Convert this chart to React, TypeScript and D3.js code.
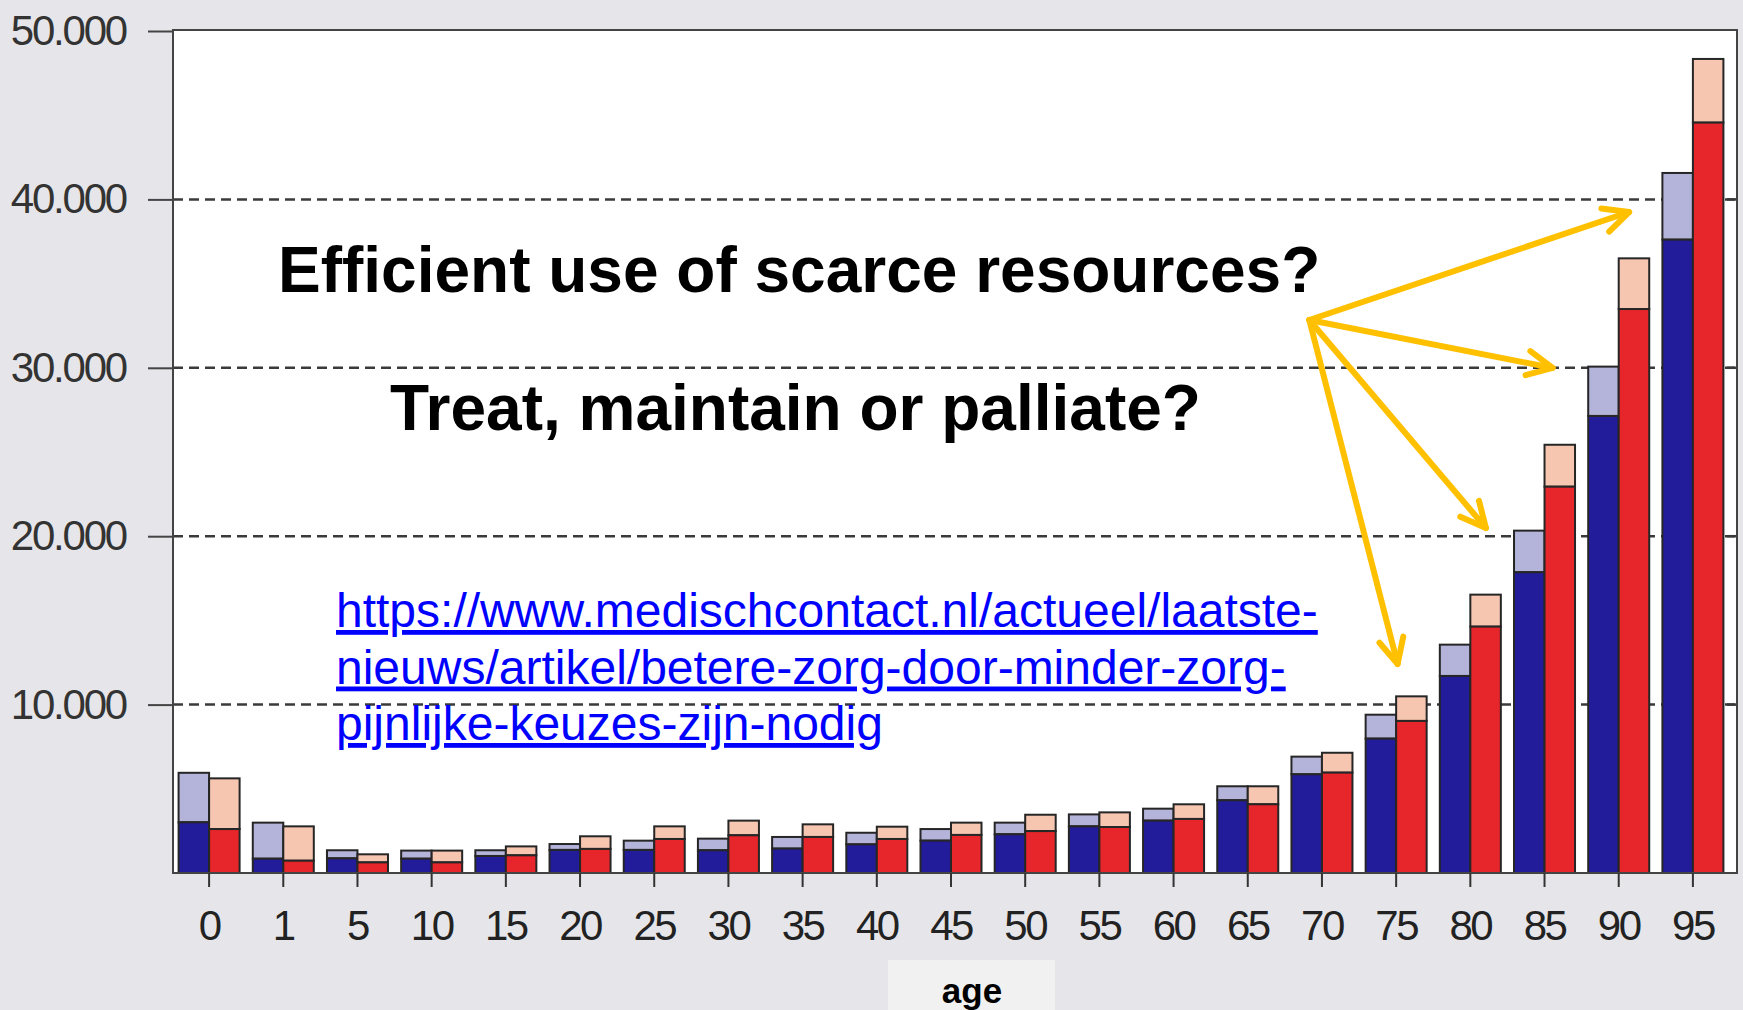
import React, { useEffect, useRef } from "react";
import * as d3 from "d3";

// age groups on the x axis
const ages = ["0", "1", "5", "10", "15", "20", "25", "30", "35", "40", "45", "50", "55", "60", "65", "70", "75", "80", "85", "90", "95"];

// men: dark part and total height of the bar
const maleDark = [3010, 850, 870, 850, 1010, 1370, 1370, 1350, 1450, 1700, 1920, 2300, 2770, 3110, 4320, 5860, 7980, 11700, 17860, 27140, 37610];
const maleTotal = [5950, 2990, 1350, 1330, 1350, 1720, 1920, 2040, 2140, 2390, 2610, 2990, 3480, 3820, 5150, 6910, 9400, 13560, 20330, 30070, 41570];

// women: dark part and total height of the bar
const femaleDark = [2610, 730, 630, 630, 1050, 1430, 2020, 2240, 2140, 2020, 2260, 2490, 2730, 3210, 4080, 5960, 9030, 14630, 22940, 33490, 44560];
const femaleTotal = [5620, 2770, 1110, 1330, 1580, 2180, 2770, 3110, 2890, 2750, 2990, 3460, 3600, 4080, 5150, 7140, 10490, 16530, 25430, 36500, 48340];

const yTicks = [10000, 20000, 30000, 40000, 50000];

// arrows, in (fractional age index, value)
const arrowFrom = [14.83, 32840];
const arrowTips = [
  [19.14, 39250],
  [18.11, 29990],
  [17.21, 20490],
  [16.02, 12410],
];

const urlLines = [
  "https://www.medischcontact.nl/actueel/laatste-",
  "nieuws/artikel/betere-zorg-door-minder-zorg-",
  "pijnlijke-keuzes-zijn-nodig",
];

const W = 1743;
const H = 1010;
const FONT = "'Liberation Sans', Arial, sans-serif";

export default function App() {
  const ref = useRef<SVGSVGElement>(null);

  useEffect(() => {
    const svg = d3.select(ref.current);
    svg.selectAll("*").remove();

    const left = 173, right = 1737, top = 30, bottom = 873;

    const x = d3.scaleBand().domain(ages).range([172, 1730]).padding(0);
    const sub = d3.scaleBand().domain(["m", "f"]).range([0, x.bandwidth()]).paddingInner(0).paddingOuter(0.216);
    const y = d3.scaleLinear().domain([0, 50000]).range([bottom, top + 1]);
    const xIdx = d3.scaleLinear().domain([0, ages.length - 1])
      .range([x(ages[0])! + x.bandwidth() / 2, x(ages[ages.length - 1])! + x.bandwidth() / 2]);

    const fmt = d3.formatLocale({ decimal: ",", thousands: ".", grouping: [3], currency: ["", ""] }).format(",");

    svg.append("rect").attr("width", W).attr("height", H).attr("fill", "#e6e6ea");
    svg.append("rect").attr("x", left).attr("y", top).attr("width", right - left).attr("height", bottom - top).attr("fill", "#ffffff");

    // gridlines
    svg.append("g").selectAll("line")
      .data(yTicks.filter(t => t < 50000))
      .enter().append("line")
      .attr("x1", left).attr("x2", right)
      .attr("y1", d => y(d)).attr("y2", d => y(d))
      .attr("stroke", "#3a3a3a").attr("stroke-width", 2.5).attr("stroke-dasharray", "10,6");

    // right side inward ticks
    svg.append("g").selectAll("line")
      .data(yTicks.filter(t => t < 50000))
      .enter().append("line")
      .attr("x1", right - 10).attr("x2", right)
      .attr("y1", d => y(d)).attr("y2", d => y(d))
      .attr("stroke", "#3a3a3a").attr("stroke-width", 2.5);

    // bars
    const seg = (cls: string, dark: number[], total: number[], key: string, cDark: string, cLight: string) => {
      const g = svg.append("g").attr("class", cls);
      ages.forEach((a, i) => {
        const bx = x(a)! + sub(key)!;
        g.append("rect").attr("x", bx).attr("y", y(total[i])).attr("width", sub.bandwidth())
          .attr("height", y(dark[i]) - y(total[i])).attr("fill", cLight)
          .attr("stroke", "#262626").attr("stroke-width", 2);
        g.append("rect").attr("x", bx).attr("y", y(dark[i])).attr("width", sub.bandwidth())
          .attr("height", y(0) - y(dark[i])).attr("fill", cDark)
          .attr("stroke", "#262626").attr("stroke-width", 2);
      });
    };
    seg("male", maleDark, maleTotal, "m", "#221c9a", "#b4b3da");
    seg("female", femaleDark, femaleTotal, "f", "#e6262b", "#f6c6b1");

    // frame
    svg.append("path")
      .attr("d", `M${left},${bottom}V${top}H${right}V${bottom}Z`)
      .attr("fill", "none").attr("stroke", "#444").attr("stroke-width", 2);

    // y axis
    const ya = svg.append("g").attr("transform", `translate(${left},0)`)
      .call(d3.axisLeft(y).tickValues(yTicks).tickSize(25).tickPadding(22).tickFormat(d => fmt(d as number)));
    ya.select(".domain").remove();
    ya.selectAll(".tick line").attr("stroke", "#444").attr("stroke-width", 2);
    ya.selectAll(".tick text").attr("fill", "#333").attr("font-size", 42)
      .attr("font-family", FONT).attr("letter-spacing", "-2.2px");

    // x axis
    const xa = svg.append("g").attr("transform", `translate(0,${bottom})`)
      .call(d3.axisBottom(x).tickSize(14).tickPadding(23));
    xa.select(".domain").remove();
    xa.selectAll(".tick line").attr("stroke", "#333").attr("stroke-width", 2);
    xa.selectAll(".tick text").attr("fill", "#222").attr("font-size", 42)
      .attr("font-family", FONT).attr("letter-spacing", "-2.5px");

    // axis title box
    svg.append("rect").attr("x", 888).attr("y", 960).attr("width", 167).attr("height", 50).attr("fill", "#f1f1f1");
    svg.append("text").attr("x", 972).attr("y", 1003).attr("text-anchor", "middle")
      .attr("font-family", FONT).attr("font-weight", "bold").attr("font-size", 35).attr("fill", "#000").text("age");

    // headline texts
    svg.append("text").attr("x", 278).attr("y", 292).attr("font-family", FONT).attr("font-weight", "bold")
      .attr("font-size", 64).attr("fill", "#000").text("Efficient use of scarce resources?");
    svg.append("text").attr("x", 390).attr("y", 430).attr("font-family", FONT).attr("font-weight", "bold")
      .attr("font-size", 64).attr("fill", "#000").text("Treat, maintain or palliate?");

    // link
    svg.append("g").selectAll("text").data(urlLines).enter().append("text")
      .attr("x", 336).attr("y", (_, i) => 627 + i * 56.5)
      .attr("font-family", FONT).attr("font-size", 48).attr("fill", "#0000ff")
      .attr("text-decoration", "underline").text(d => d);

    // arrows
    const ox = xIdx(arrowFrom[0]), oy = y(arrowFrom[1]);
    const ag = svg.append("g").attr("stroke", "#ffc000").attr("stroke-width", 6)
      .attr("stroke-linecap", "round").attr("stroke-linejoin", "round").attr("fill", "none");
    arrowTips.forEach(([ti, tv]) => {
      const tx = xIdx(ti), ty = y(tv);
      const ang = Math.atan2(ty - oy, tx - ox);
      const L = 28, a = (26 * Math.PI) / 180;
      ag.append("line").attr("x1", ox).attr("y1", oy).attr("x2", tx).attr("y2", ty);
      ag.append("path").attr("d",
        `M${tx - L * Math.cos(ang - a)},${ty - L * Math.sin(ang - a)}L${tx},${ty}L${tx - L * Math.cos(ang + a)},${ty - L * Math.sin(ang + a)}`);
    });
  }, []);

  return (
    <svg ref={ref} width={W} height={H} style={{ position: "absolute", left: 0, top: 0, display: "block" }} />
  );
}
